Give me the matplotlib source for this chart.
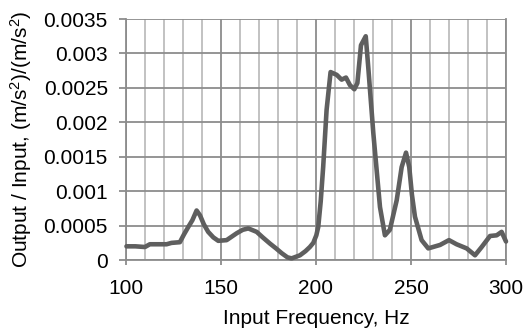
import matplotlib
matplotlib.use("Agg")
import matplotlib.pyplot as plt
from matplotlib.ticker import MultipleLocator

freq_hz = [100.3, 105, 110, 112.6, 117, 121.4, 124, 128.4, 130.5, 132.8, 135, 137.2, 139,
           141, 143.3, 146, 148.6, 153, 158.3, 161.5, 164.4, 168.8, 172, 175.8, 179, 182,
           185, 187.2, 191.6, 194.5, 196.8, 198.6, 200.2, 201.2, 202.5, 203.8, 205.6, 207.7,
           210.9, 213.5, 215.8, 217.9, 220.2, 221.8, 223.7, 226.2, 227.5, 230.2, 233.7,
           236.3, 238.9, 242.5, 245.1, 247.4, 249.1, 250.5, 252.1, 255.6, 259.1, 265.3,
           270, 274, 279.3, 283.7, 287.2, 291.6, 295.1, 297.7, 300]
ratio = [0.00020, 0.00020, 0.00019, 0.00023, 0.00023, 0.00023, 0.00025, 0.00026, 0.00037, 0.00048,
         0.00058, 0.00072, 0.00065, 0.00052, 0.00041, 0.00033, 0.00028, 0.00029, 0.00039, 0.00044,
         0.00046, 0.00041, 0.00033, 0.00024, 0.00017, 0.00010, 0.00004, 0.000025, 0.00007, 0.00013,
         0.00019, 0.00025, 0.00036, 0.00048, 0.00085, 0.00135, 0.00218, 0.00273, 0.00269, 0.00262,
         0.00265, 0.00254, 0.00248, 0.00257, 0.00312, 0.00325, 0.00281, 0.00184, 0.00077, 0.00036,
         0.00044, 0.00087, 0.00135, 0.00156, 0.00135, 0.00095, 0.00063, 0.00029, 0.00017, 0.00022,
         0.00029, 0.00023, 0.00017, 0.00007, 0.00019, 0.00035, 0.00036, 0.00041, 0.00027]

x_ticks = [100, 150, 200, 250, 300]
y_ticks = [0, 0.0005, 0.001, 0.0015, 0.002, 0.0025, 0.003, 0.0035]
y_tick_labels = ["0", "0.0005", "0.001", "0.0015", "0.002", "0.0025", "0.003", "0.0035"]

plt.rcParams['font.family'] = ['Liberation Sans', 'DejaVu Sans']
plt.rcParams['mathtext.fontset'] = 'custom'
plt.rcParams['mathtext.rm'] = 'Liberation Sans'
plt.rcParams['mathtext.it'] = 'Liberation Sans'
plt.rcParams['mathtext.default'] = 'rm'

fig = plt.figure(figsize=(5.29, 3.28), dpi=100)
ax = fig.add_axes([0.238, 0.207, 0.7185, 0.735])

ax.set_xlim(100, 300)
ax.set_ylim(0, 0.0035)
ax.set_xticks(x_ticks)
ax.set_xticklabels([str(t) for t in x_ticks])
ax.set_yticks(y_ticks)
ax.set_yticklabels(y_tick_labels)
ax.xaxis.set_minor_locator(MultipleLocator(10))

ax.grid(which='minor', axis='x', color='#bdbdbd', linewidth=1.3)
ax.grid(which='major', axis='x', color='#8c8c8c', linewidth=1.3)
ax.grid(which='major', axis='y', color='#8c8c8c', linewidth=1.3)
ax.set_axisbelow(True)

ax.spines['top'].set_visible(False)
for s in ['left', 'bottom', 'right']:
    ax.spines[s].set_color('#8c8c8c')
    ax.spines[s].set_linewidth(1.3)

ax.tick_params(axis='y', which='major', color='#8c8c8c', length=5, width=1.3,
               labelsize=15, labelcolor='black', pad=8)
ax.tick_params(axis='x', which='major', color='#8c8c8c', length=3.6, width=1.3,
               labelsize=15, labelcolor='black', pad=10)
ax.tick_params(axis='x', which='minor', length=0)

ax.plot(freq_hz, ratio, color='#5f5f5f', linewidth=3.3, solid_joinstyle='round',
        solid_capstyle='round', clip_on=False, zorder=3)

ax.set_xlabel('Input Frequency, Hz', fontsize=15, labelpad=8)
ax.set_ylabel('Output / Input, (m/s$^2$)/(m/s$^2$)', fontsize=15, labelpad=6.5)

fig.savefig('out.png', dpi=100)
